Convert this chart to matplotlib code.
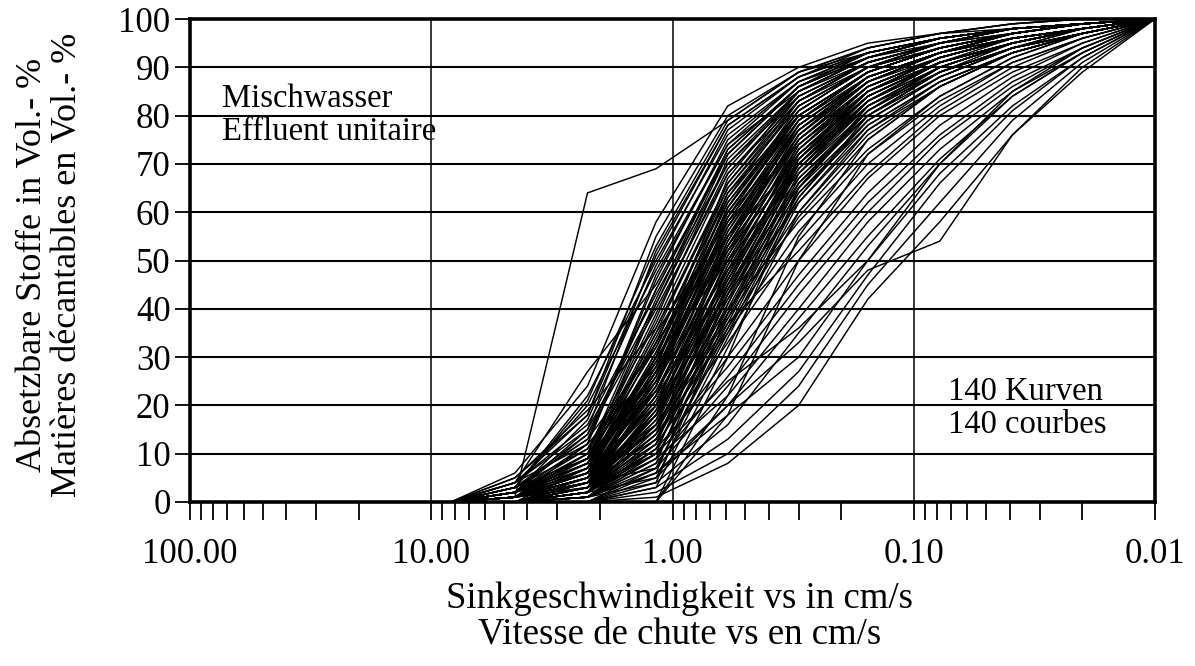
import matplotlib
matplotlib.use("Agg")
import matplotlib.pyplot as plt
from matplotlib.ticker import FixedLocator, NullFormatter, FixedFormatter

plt.rcParams['font.family'] = ['Liberation Serif', 'DejaVu Serif']

# settling velocities (cm/s) at which each curve was measured
velocity = [8.3, 4.5, 2.25, 1.17, 0.59, 0.30, 0.155, 0.078, 0.039, 0.02, 0.01]
start_pct = 0
end_pct = 100

# settleable fraction (vol.-%) at velocities 4.5 ... 0.02 cm/s
curves_fast = [
    [1, 64, 69, 79, 89, 93, 96, 98, 99],
    [4, 27, 45, 72, 86, 92, 96, 98, 99],
    [3, 22, 50, 76, 87, 93, 96, 98, 99],
    [5, 18, 55, 80, 89, 94, 97, 99, 100],
    [2, 15, 52, 78, 88, 93, 96, 98, 99],
    [3, 20, 48, 74, 85, 91, 95, 97, 99],
    [6, 24, 58, 82, 90, 95, 97, 99, 100],
    [2, 12, 46, 75, 87, 92, 95, 97, 99],
    [4, 16, 43, 70, 84, 91, 95, 98, 99],
    [1, 10, 42, 73, 86, 93, 96, 98, 99],
    [3, 14, 40, 68, 83, 90, 94, 97, 99],
    [2, 9, 38, 71, 85, 92, 96, 98, 99],
    [5, 19, 36, 65, 82, 90, 94, 97, 99],
    [1, 8, 35, 66, 84, 91, 95, 98, 99],
    [2, 11, 33, 64, 80, 89, 94, 97, 99],
    [3, 13, 32, 62, 81, 90, 95, 98, 99],
    [0, 7, 30, 67, 85, 92, 96, 98, 99],
    [4, 15, 41, 70, 85, 92, 96, 98, 99],
    [3, 13, 44, 72, 86, 92, 96, 98, 99],
    [2, 10, 39, 69, 85, 92, 96, 98, 99],
    [3, 11, 37, 68, 84, 91, 95, 98, 99],
    [2, 17, 49, 77, 88, 94, 97, 99, 100],
    [3, 21, 53, 79, 89, 94, 97, 98, 99],
    [1, 12, 47, 74, 87, 93, 96, 98, 99],
    [2, 14, 44, 73, 86, 92, 96, 98, 99],
    [4, 18, 51, 78, 88, 93, 96, 98, 99],
    [1, 9, 41, 72, 86, 93, 96, 98, 99],
]

curves_mid = [
    [1, 6, 31, 60, 79, 88, 93, 96, 98],
    [2, 10, 29, 58, 78, 88, 93, 97, 99],
    [4, 12, 28, 63, 83, 91, 95, 98, 99],
    [1, 5, 27, 57, 77, 87, 93, 96, 98],
    [0, 4, 26, 61, 82, 90, 94, 97, 99],
    [2, 8, 25, 55, 76, 87, 92, 96, 98],
    [1, 6, 24, 59, 80, 89, 94, 97, 99],
    [3, 9, 23, 52, 75, 86, 92, 96, 98],
    [0, 3, 22, 56, 79, 89, 94, 97, 99],
    [1, 5, 21, 50, 74, 86, 92, 96, 98],
    [2, 7, 20, 54, 78, 88, 93, 97, 99],
    [0, 2, 19, 48, 73, 85, 91, 95, 98],
    [1, 4, 18, 53, 77, 88, 93, 96, 98],
    [0, 3, 17, 46, 72, 84, 91, 95, 98],
    [2, 6, 16, 51, 76, 87, 93, 97, 99],
    [1, 5, 15, 44, 70, 83, 90, 95, 98],
    [0, 2, 14, 49, 75, 87, 93, 96, 98],
    [0, 4, 13, 42, 69, 82, 90, 95, 98],
    [1, 3, 12, 47, 74, 86, 92, 96, 98],
    [0, 1, 11, 40, 67, 81, 89, 94, 97],
    [1, 3, 10, 45, 72, 85, 92, 96, 98],
    [0, 2, 9, 38, 66, 80, 89, 94, 97],
    [0, 1, 8, 43, 71, 85, 92, 96, 98],
    [1, 4, 7, 36, 64, 79, 88, 94, 97],
    [0, 0, 6, 41, 70, 84, 91, 95, 98],
    [0, 2, 5, 34, 62, 78, 87, 93, 97],
    [0, 1, 4, 39, 68, 83, 91, 95, 98],
    [0, 0, 3, 32, 60, 77, 87, 93, 97],
    [0, 0, 0, 30, 65, 82, 90, 95, 98],
    [0, 0, 0, 22, 55, 75, 86, 93, 97],
    [0, 0, 0, 18, 50, 72, 84, 92, 97],
    [1, 5, 26, 58, 79, 89, 94, 97, 99],
    [2, 8, 34, 63, 81, 90, 95, 98, 99],
    [0, 4, 22, 53, 76, 88, 93, 97, 99],
    [1, 6, 30, 62, 80, 89, 94, 97, 99],
    [0, 3, 19, 50, 74, 86, 92, 96, 98],
    [1, 7, 27, 56, 77, 87, 93, 97, 99],
    [2, 9, 32, 60, 79, 89, 94, 97, 99],
    [0, 2, 15, 45, 71, 85, 92, 96, 98],
    [1, 4, 21, 49, 72, 84, 91, 95, 98],
    [0, 1, 12, 43, 69, 83, 91, 95, 98],
    [1, 5, 24, 54, 76, 87, 93, 96, 98],
    [0, 3, 17, 48, 73, 86, 92, 96, 98],
    [1, 6, 29, 57, 78, 88, 93, 97, 99],
    [0, 2, 13, 41, 68, 82, 90, 95, 98],
    [2, 8, 26, 55, 75, 86, 92, 96, 98],
    [0, 1, 9, 37, 65, 81, 90, 95, 98],
    [1, 5, 20, 47, 70, 83, 91, 95, 98],
    [0, 4, 23, 51, 73, 85, 92, 96, 98],
    [1, 7, 31, 59, 77, 88, 93, 97, 99],
    [1, 6, 28, 61, 81, 90, 95, 98, 99],
    [2, 7, 33, 65, 83, 91, 95, 98, 99],
    [0, 3, 24, 57, 78, 88, 93, 97, 99],
    [1, 5, 30, 64, 82, 90, 95, 98, 99],
    [0, 2, 20, 52, 75, 87, 93, 96, 98],
    [1, 4, 25, 59, 80, 89, 94, 97, 99],
    [0, 3, 18, 47, 71, 84, 91, 95, 98],
    [2, 9, 36, 66, 83, 91, 95, 98, 99],
    [1, 4, 16, 46, 72, 85, 92, 96, 98],
    [0, 2, 11, 39, 66, 81, 90, 95, 98],
    [1, 6, 27, 60, 80, 89, 94, 97, 99],
    [0, 1, 7, 35, 63, 80, 89, 95, 98],
    [1, 5, 22, 55, 78, 88, 93, 97, 99],
    [0, 3, 14, 44, 70, 84, 91, 96, 98],
    [2, 8, 29, 61, 80, 89, 94, 97, 99],
]

curves_slow = [
    [1, 6, 28, 52, 70, 82, 89, 94, 98],
    [2, 9, 35, 58, 74, 85, 91, 95, 98],
    [1, 7, 33, 55, 71, 83, 90, 95, 98],
    [0, 5, 25, 48, 67, 80, 88, 94, 97],
    [1, 4, 22, 45, 65, 79, 88, 94, 97],
    [0, 3, 20, 42, 62, 77, 86, 93, 97],
    [2, 8, 30, 50, 68, 81, 89, 94, 98],
    [0, 2, 16, 38, 60, 76, 86, 93, 97],
    [1, 5, 18, 40, 58, 73, 84, 92, 97],
    [0, 3, 14, 35, 56, 72, 83, 91, 96],
    [0, 2, 12, 33, 54, 70, 82, 91, 96],
    [1, 4, 15, 37, 52, 68, 81, 90, 96],
    [0, 1, 10, 30, 50, 67, 80, 89, 95],
    [0, 2, 11, 28, 47, 64, 78, 88, 95],
    [0, 1, 8, 26, 45, 62, 76, 87, 94],
    [0, 0, 7, 24, 43, 60, 75, 86, 94],
    [0, 1, 9, 22, 40, 58, 73, 85, 93],
    [0, 0, 5, 20, 38, 55, 71, 84, 93],
    [0, 0, 4, 16, 35, 53, 70, 84, 93],
    [0, 1, 6, 18, 30, 50, 68, 82, 92],
    [0, 0, 3, 13, 27, 47, 66, 81, 92],
    [0, 0, 2, 10, 24, 45, 62, 79, 91],
    [0, 0, 1, 8, 20, 42, 58, 76, 90],
    [0, 2, 10, 25, 36, 50, 70, 85, 94],
    [0, 1, 6, 20, 33, 48, 54, 76, 89],
    [0, 2, 18, 44, 66, 80, 89, 94, 97],
    [2, 9, 27, 53, 72, 84, 91, 95, 98],
    [0, 3, 16, 39, 63, 79, 88, 94, 97],
    [1, 6, 23, 46, 69, 83, 91, 95, 98],
    [0, 2, 13, 36, 59, 75, 86, 93, 97],
    [1, 4, 19, 43, 64, 78, 87, 93, 97],
]

x_major = [100, 10, 1, 0.1, 0.01]
x_major_labels = ['100.00', '10.00', '1.00', '0.10', '0.01']
y_ticks = [0, 10, 20, 30, 40, 50, 60, 70, 80, 90, 100]

W, H = 1195, 666
fig = plt.figure(figsize=(W / 100, H / 100), dpi=100)
L, R, T, B = 190, 1155, 19, 502
ax = fig.add_axes([L / W, 1 - B / H, (R - L) / W, (B - T) / H])

ax.set_xscale('log')
ax.set_xlim(100, 0.01)
ax.set_ylim(0, 100)

for group in (curves_fast, curves_mid, curves_slow):
    for vals in group:
        ax.plot(velocity, [start_pct] + vals + [end_pct], color='black', lw=1.05,
                solid_joinstyle='miter', zorder=3)

# grid
for y in y_ticks[1:-1]:
    ax.axhline(y, color='black', lw=1.5, zorder=1)
for x in x_major[1:-1]:
    ax.axvline(x, color='black', lw=1.1, zorder=1)

# ticks
ax.xaxis.set_major_locator(FixedLocator(x_major))
ax.xaxis.set_major_formatter(FixedFormatter(x_major_labels))
minors = []
for dec in [10, 1, 0.1, 0.01]:
    for k in range(2, 10):
        minors.append(dec * k)
ax.xaxis.set_minor_locator(FixedLocator(minors))
ax.xaxis.set_minor_formatter(NullFormatter())
ax.tick_params(axis='x', which='both', direction='out', length=13, width=1.3,
               color='black', labelsize=25, pad=13)
ax.set_yticks(y_ticks)
ax.tick_params(axis='y', which='major', direction='out', length=11, width=1.3,
               color='black', labelsize=25, pad=3)

for s in ax.spines.values():
    s.set_linewidth(2.6)
    s.set_zorder(4)

# annotations
ax.text((222 - L) / (R - L), (B - 99) / (B - T), 'Mischwasser', transform=ax.transAxes,
        fontsize=23.5, va='center', ha='left', zorder=5)
ax.text((222 - L) / (R - L), (B - 132) / (B - T), 'Effluent unitaire', transform=ax.transAxes,
        fontsize=23.5, va='center', ha='left', zorder=5)
ax.text((948 - L) / (R - L), (B - 392) / (B - T), '140 Kurven', transform=ax.transAxes,
        fontsize=23.5, va='center', ha='left', zorder=5)
ax.text((948 - L) / (R - L), (B - 425) / (B - T), '140 courbes', transform=ax.transAxes,
        fontsize=23.5, va='center', ha='left', zorder=5)

# axis labels
fig.text(680 / W, 1 - 598 / H, 'Sinkgeschwindigkeit vs in cm/s', fontsize=26.5,
         ha='center', va='center')
fig.text(680 / W, 1 - 634 / H, 'Vitesse de chute vs en cm/s', fontsize=26.5,
         ha='center', va='center')
fig.text(33 / W, 1 - 265 / H, 'Absetzbare Stoffe in Vol.- %', fontsize=26,
         ha='center', va='center', rotation=90)
fig.text(68 / W, 1 - 265 / H, 'Matières décantables en Vol.- %', fontsize=26,
         ha='center', va='center', rotation=90)

fig.savefig('out.png', dpi=100)
